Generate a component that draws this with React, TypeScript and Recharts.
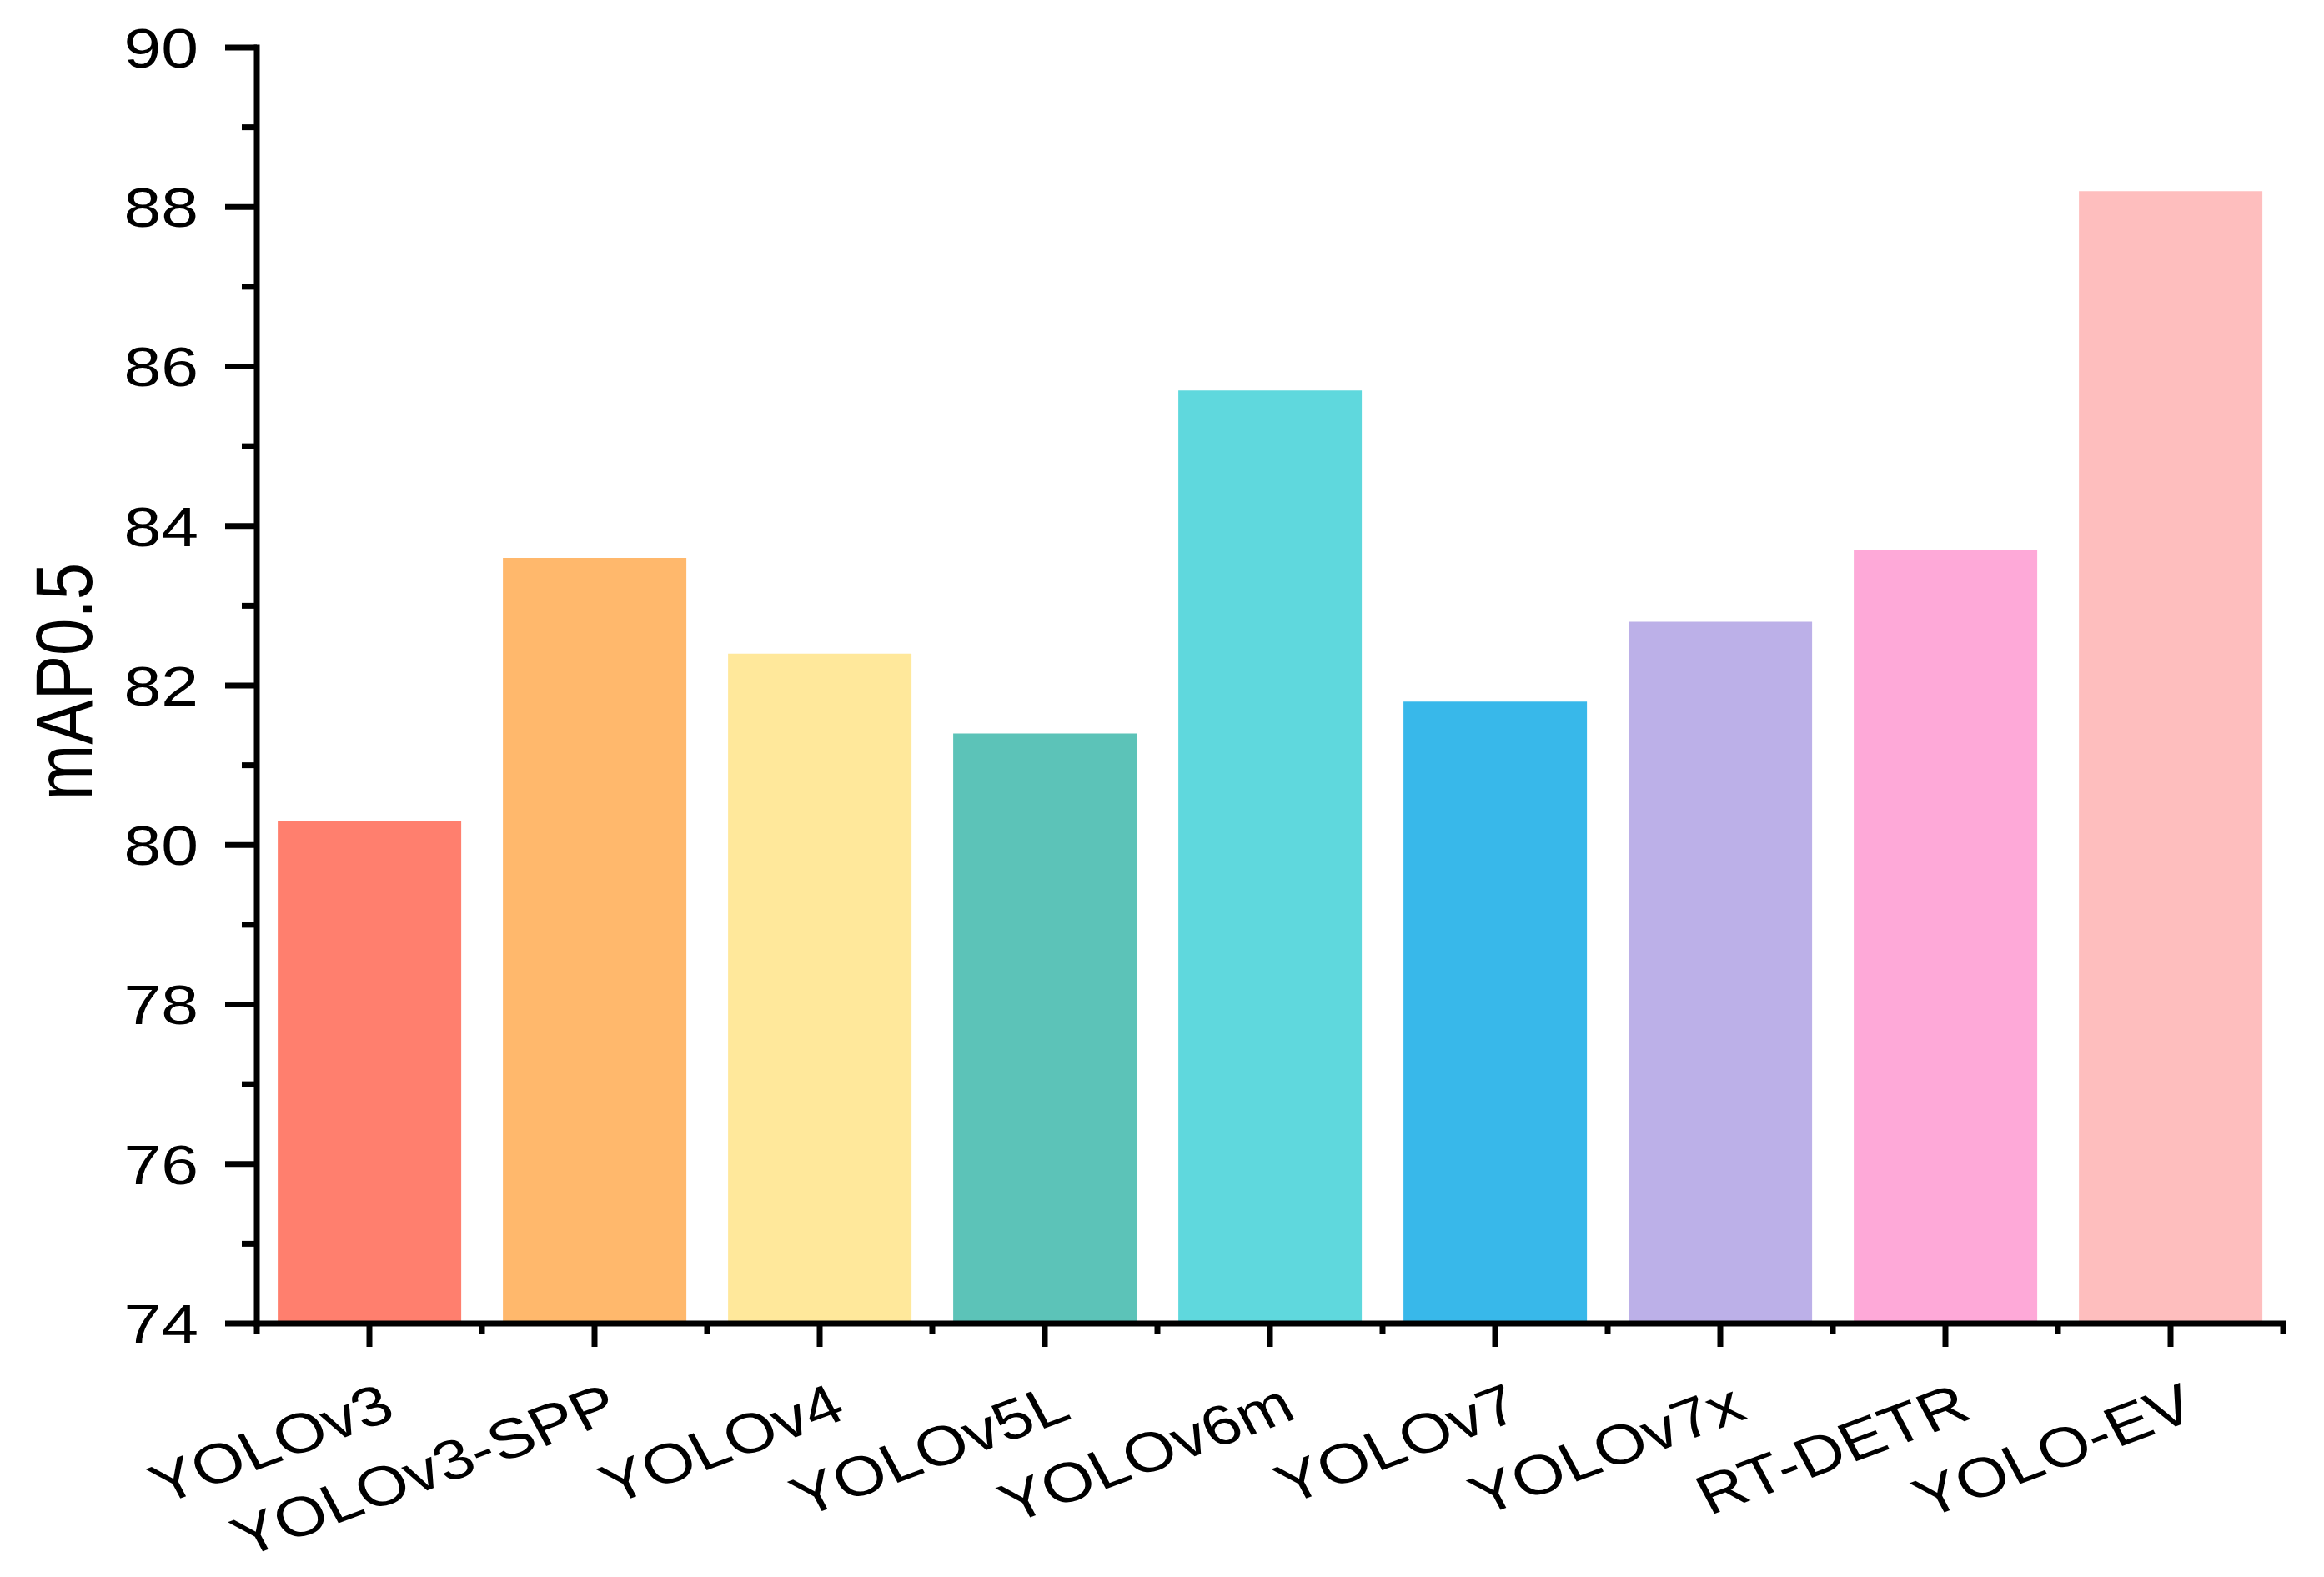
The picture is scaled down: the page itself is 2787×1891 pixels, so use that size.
import React from "react";
import { BarChart, Bar, XAxis, YAxis, Cell, Label } from "recharts";

const categories = ["YOLOv3", "YOLOv3-SPP", "YOLOv4", "YOLOv5L", "YOLOv6m", "YOLOv7", "YOLOv7x", "RT-DETR", "YOLO-EV"];
const mapValues = [80.3, 83.6, 82.4, 81.4, 85.7, 81.8, 82.8, 83.7, 88.2];
const yTicks = [74, 75, 76, 77, 78, 79, 80, 81, 82, 83, 84, 85, 86, 87, 88, 89, 90];
const palette = ["#FF7F6E", "#FFB86C", "#FFE89B", "#5CC3B8", "#5FD8DD", "#38B8EA", "#BCB0E8", "#FEA9D8", "#FEBEBE"];

const data = categories.map((name, i) => ({ name, value: mapValues[i] }));

const W = 2771;
const H = 1875;
const MARGIN = { top: 49, right: 41, left: 0, bottom: 0 };
const Y_AXIS_W = 300;
const X_AXIS_H = 296;
const PLOT_W = W - MARGIN.left - MARGIN.right - Y_AXIS_W;
const FONT = "'Liberation Sans', Arial, sans-serif";
const STRETCH = 1.2;

const YTick = (props: any) => {
  const { x, y, payload } = props;
  const v = payload.value;
  const major = v % 2 === 0;
  return (
    <g>
      <line x1={x - (major ? 38 : 18)} x2={x} y1={y} y2={y} stroke="#000" strokeWidth={7} />
      {major && (
        <g transform={`translate(${x - 70},${y}) scale(${STRETCH},1)`}>
          <text x={0} y={0} dy="0.358em" textAnchor="end" fontSize={67} fontFamily={FONT} fill="#000">
            {v}
          </text>
        </g>
      )}
    </g>
  );
};

const XTick = (props: any) => {
  const { x, y, payload, index } = props;
  const half = payload && typeof payload.offset === "number" && payload.offset > 0 ? payload.offset : PLOT_W / categories.length / 2;
  return (
    <g>
      <line x1={x} x2={x} y1={y} y2={y + 28} stroke="#000" strokeWidth={7} />
      <line x1={x - half} x2={x - half} y1={y} y2={y + 13} stroke="#000" strokeWidth={7} />
      {index === categories.length - 1 && (
        <line x1={x + half} x2={x + half} y1={y} y2={y + 13} stroke="#000" strokeWidth={7} />
      )}
      <g transform={`translate(${x + 34},${y + 113}) scale(${STRETCH},1) rotate(-24)`}>
        <text x={0} y={0} textAnchor="end" fontSize={67} fontFamily={FONT} fill="#000">
          {payload.value}
        </text>
      </g>
    </g>
  );
};

const YLabel = (props: any) => {
  const vb = props.viewBox || {};
  const cx = (vb.x || 0) + 102;
  const cy = (vb.y || 0) + (vb.height || 0) / 2 - 5;
  return (
    <g transform={`translate(${cx},${cy}) scale(${STRETCH},1) rotate(-90)`}>
      <text x={0} y={0} textAnchor="middle" fontSize={80} fontFamily={FONT} fill="#000">
        mAP0.5
      </text>
    </g>
  );
};

export default function App() {
  return (
    <div style={{ width: W, height: H, background: "#fff" }}>
      <BarChart width={W} height={H} data={data} margin={MARGIN} barCategoryGap="9.3%">
        <XAxis
          dataKey="name"
          height={X_AXIS_H}
          interval={0}
          tickSize={0}
          tickMargin={0}
          tickLine={false}
          axisLine={{ stroke: "#000", strokeWidth: 7, strokeLinecap: "square" }}
          tick={<XTick />}
        />
        <YAxis
          type="number"
          domain={[74, 90]}
          ticks={yTicks}
          interval={0}
          allowDataOverflow
          width={Y_AXIS_W}
          tickSize={0}
          tickMargin={0}
          tickLine={false}
          axisLine={{ stroke: "#000", strokeWidth: 7, strokeLinecap: "square" }}
          tick={<YTick />}
        >
          <Label content={<YLabel />} />
        </YAxis>
        <Bar dataKey="value" isAnimationActive={false}>
          {data.map((d, i) => (
            <Cell key={d.name} fill={palette[i]} />
          ))}
        </Bar>
      </BarChart>
    </div>
  );
}
